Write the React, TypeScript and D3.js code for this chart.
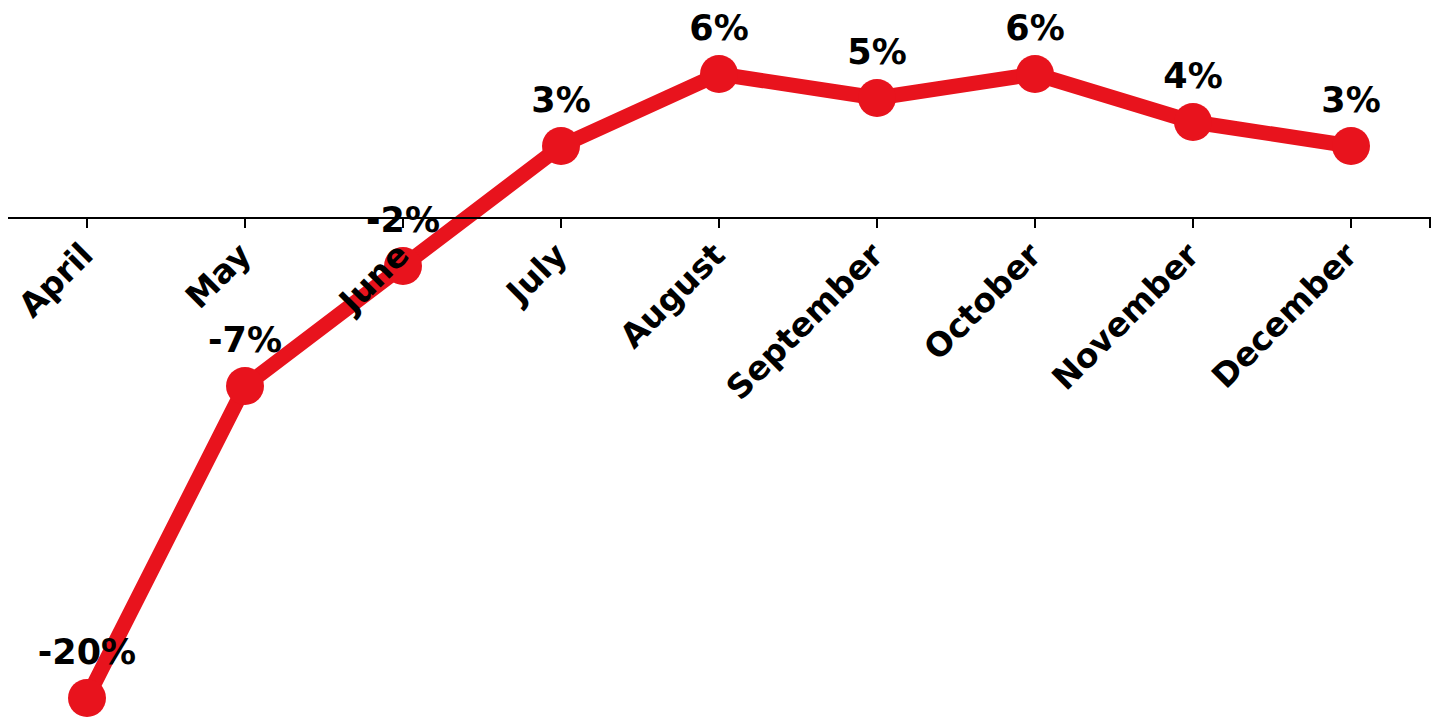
import React from "react";
import * as d3 from "d3";

const months = ["April", "May", "June", "July", "August", "September", "October", "November", "December"];
const values = [-20, -7, -2, 3, 6, 5, 6, 4, 3];
const valueLabels = ["-20%", "-7%", "-2%", "3%", "6%", "5%", "6%", "4%", "3%"];

const W = 1440;
const H = 717;
const RED = "#E8131D";
const FONT = "'DejaVu Sans', sans-serif";

export default function App() {
  const x = d3.scaleBand<string>().domain(months).range([8, 1430]).padding(0);
  const y = d3.scaleLinear().domain([-20, 6]).range([698, 74]);
  const cx = (m: string) => (x(m) as number) + x.bandwidth() / 2;
  const line = d3
    .line<number>()
    .x((_, i) => cx(months[i]))
    .y((v) => y(v));
  const y0 = y(0);
  const [r0, r1] = x.range();

  return (
    <svg width={W} height={H} style={{ position: "absolute", left: 0, top: 0, display: "block" }}>
      <rect width={W} height={H} fill="#fff" />
      <path d={line(values) || ""} fill="none" stroke={RED} strokeWidth={15} strokeLinejoin="round" />
      {values.map((v, i) => (
        <circle key={i} cx={cx(months[i])} cy={y(v)} r={19} fill={RED} />
      ))}
      <path d={`M${r0},${y0}H${r1}V${y0 + 10}`} fill="none" stroke="#000" strokeWidth={2} />
      {months.map((m) => (
        <line key={m} x1={cx(m)} x2={cx(m)} y1={y0} y2={y0 + 10} stroke="#000" strokeWidth={2} />
      ))}
      {months.map((m) => (
        <text
          key={m}
          transform={`translate(${cx(m) + 8},${y0 + 39}) rotate(-45)`}
          textAnchor="end"
          fontFamily={FONT}
          fontWeight={700}
          fontSize={33}
          fill="#000"
        >
          {m}
        </text>
      ))}
      {values.map((v, i) => (
        <text
          key={i}
          x={cx(months[i])}
          y={y(v) - 34}
          textAnchor="middle"
          fontFamily={FONT}
          fontWeight={700}
          fontSize={35}
          fill="#000"
        >
          {valueLabels[i]}
        </text>
      ))}
    </svg>
  );
}
